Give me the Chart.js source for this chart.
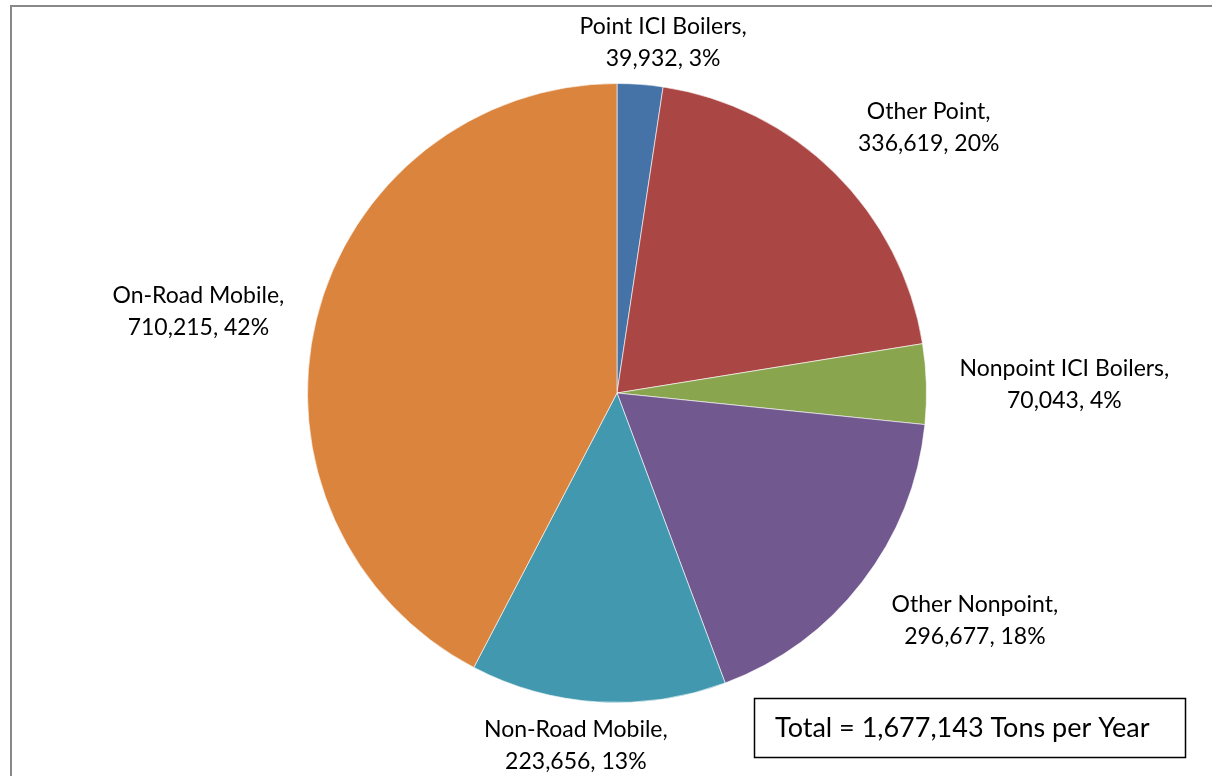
<!DOCTYPE html>
<html>
<head>
<meta charset="utf-8">
<script src="https://cdn.jsdelivr.net/npm/chart.js@4.4.1/dist/chart.umd.min.js"></script>
<style>
  html, body { margin: 0; padding: 0; background: #fff; }
  #wrap { position: relative; width: 1212px; height: 776px; }
  #frame { position: absolute; left: 10px; top: 5px; right: -5px; bottom: -5px;
           border-left: 2px solid #888; border-top: 2px solid #888; }
  canvas { position: absolute; left: 0; top: 0; }
</style>
</head>
<body>
<div id="wrap">
  <div id="frame"></div>
  <canvas id="pieChart" width="1212" height="776"></canvas>
</div>
<script>
// Emisi per sektor
const categories = ['Point ICI Boilers', 'Other Point', 'Nonpoint ICI Boilers', 'Other Nonpoint', 'Non-Road Mobile', 'On-Road Mobile'];
const tons = [39932, 336619, 70043, 296677, 223656, 710215];
const percentLabels = ['3%', '20%', '4%', '18%', '13%', '42%'];
const totalText = 'Total = 1,677,143 Tons per Year';

const sliceColors = ['#4572A7', '#AA4643', '#89A54E', '#71588F', '#4198AF', '#DB843D'];

// label offset from the arc edge at the slice middle
const labelShift = [[23, -42], [94, -45], [138, 1], [113, 38], [-22, 44], [-118, -8]];

const FONT = '23px Lato, "Open Sans", sans-serif';

const labelPlugin = {
    id: 'sliceLabels',
    afterDraw(chart) {
        const ctx = chart.ctx;
        const meta = chart.getDatasetMeta(0);
        ctx.save();
        ctx.font = FONT;
        ctx.fillStyle = '#000';
        ctx.textAlign = 'center';
        ctx.textBaseline = 'middle';
        meta.data.forEach((arc, i) => {
            const mid = (arc.startAngle + arc.endAngle) / 2;
            const ex = arc.x + Math.cos(mid) * arc.outerRadius;
            const ey = arc.y + Math.sin(mid) * arc.outerRadius;
            const cx = ex + labelShift[i][0];
            const cy = ey + labelShift[i][1];
            ctx.fillText(categories[i] + ',', cx, cy - 16);
            ctx.fillText(tons[i].toLocaleString('en-US') + ', ' + percentLabels[i], cx, cy + 16);
        });

        // kotak total
        ctx.strokeStyle = '#000';
        ctx.lineWidth = 1.5;
        ctx.strokeRect(754.5, 698.5, 431, 59);
        ctx.font = '27px Lato, "Open Sans", sans-serif';
        ctx.textAlign = 'left';
        ctx.fillText(totalText, 775, 728);
        ctx.restore();
    }
};

const pieCtx = document.getElementById('pieChart').getContext('2d');
const pieChart = new Chart(pieCtx, {
    type: 'pie',
    data: {
        labels: categories,
        datasets: [{
            data: tons,
            backgroundColor: sliceColors,
            borderColor: 'rgba(255,255,255,0.6)',
            borderWidth: 1
        }]
    },
    options: {
        responsive: false,
        animation: false,
        layout: {
            padding: { top: 83, bottom: 73, left: 307, right: 285 }
        },
        plugins: {
            legend: { display: false },
            tooltip: { enabled: false }
        }
    },
    plugins: [labelPlugin]
});
</script>
</body>
</html>
